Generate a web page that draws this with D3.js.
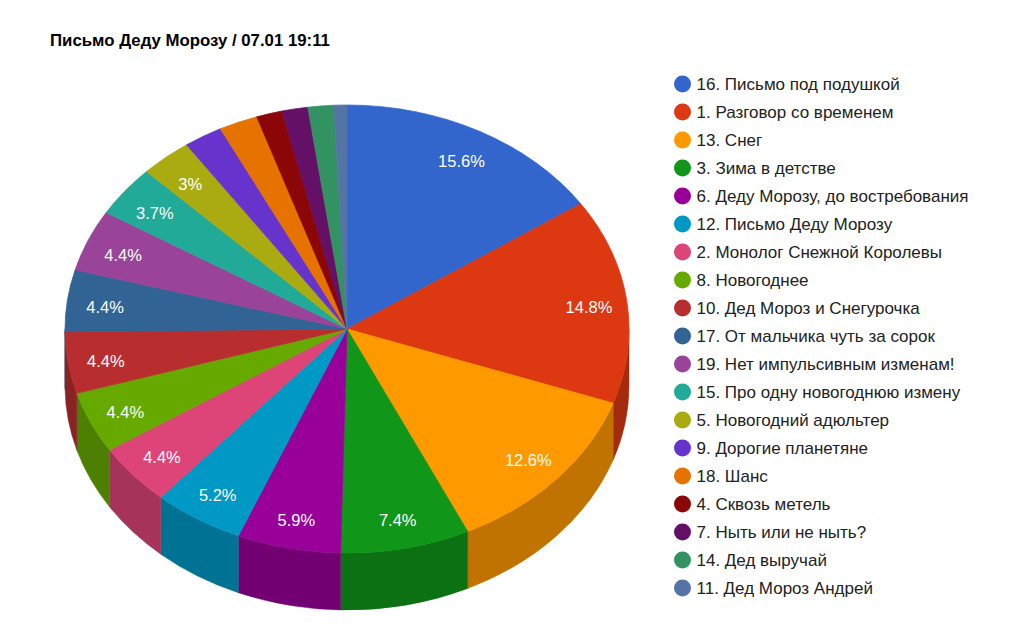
<!DOCTYPE html>
<html>
<head>
<meta charset="utf-8">
<script src="https://cdn.jsdelivr.net/npm/d3@7"></script>
<style>
  body { margin: 0; background: #fff; }
  text { font-family: "Liberation Sans", Arial, sans-serif; }
</style>
</head>
<body>
<div id="chart"></div>
<script>
// poll entries, in the order google draws them
const titles = [
    "16. Письмо под подушкой",
    "1. Разговор со временем",
    "13. Снег",
    "3. Зима в детстве",
    "6. Деду Морозу, до востребования",
    "12. Письмо Деду Морозу",
    "2. Монолог Снежной Королевы",
    "8. Новогоднее",
    "10. Дед Мороз и Снегурочка",
    "17. От мальчика чуть за сорок",
    "19. Нет импульсивным изменам!",
    "15. Про одну новогоднюю измену",
    "5. Новогодний адюльтер",
    "9. Дорогие планетяне",
    "18. Шанс",
    "4. Сквозь метель",
    "7. Ныть или не ныть?",
    "14. Дед выручай",
    "11. Дед Мороз Андрей"
]
// votes read back from the percent labels (total 135)
const votes = [21, 20, 17, 10, 8, 7, 6, 6, 6, 6, 6, 5, 4, 3, 3, 2, 2, 2, 1]

const colors = ["#3366cc", "#dc3912", "#ff9900", "#109618", "#990099", "#0099c6",
    "#dd4477", "#66aa00", "#b82e2e", "#316395", "#994499", "#22aa99",
    "#aaaa11", "#6633cc", "#e67300", "#8b0707", "#651067", "#329262", "#5574a6"]

const width = 1018, height = 644
const cx = 347, cy = 329, rx = 282, ry = 224, depth = 57

const svg = d3.select("#chart").append("svg")
    .attr("width", width)
    .attr("height", height)

svg.append("text")
    .attr("x", 50)
    .attr("y", 46)
    .attr("font-size", 16.8)
    .attr("font-weight", "bold")
    .attr("fill", "#000")
    .text("Письмо Деду Морозу / 07.01 19:11")

const total = d3.sum(votes)
const pie = d3.pie().sort(null).value(d => d)
const arcs = pie(votes)

const ex = a => cx + rx * Math.sin(a)
const ey = a => cy - ry * Math.cos(a)

// side walls: only the front half (pi/2 .. 3pi/2) shows
const side = svg.append("g")
arcs.forEach(function (d, i) {
    const a0 = Math.max(d.startAngle, Math.PI / 2)
    const a1 = Math.min(d.endAngle, 3 * Math.PI / 2)
    if (a1 <= a0) return
    const large = (a1 - a0) > Math.PI ? 1 : 0
    const p = `M${ex(a0)},${ey(a0)} A${rx},${ry} 0 ${large} 1 ${ex(a1)},${ey(a1)}` +
        ` L${ex(a1)},${ey(a1) + depth} A${rx},${ry} 0 ${large} 0 ${ex(a0)},${ey(a0) + depth} Z`
    side.append("path")
        .attr("d", p)
        .attr("fill", d3.rgb(colors[i]).darker(0.8))
        .attr("stroke", d3.rgb(colors[i]).darker(0.8))
        .attr("stroke-width", 0.5)
})

// top face: unit circle arcs squashed into the ellipse
const arc = d3.arc().innerRadius(0).outerRadius(1)
svg.append("g")
    .attr("transform", `translate(${cx},${cy}) scale(${rx},${ry})`)
    .selectAll("path")
    .data(arcs)
    .enter()
    .append("path")
    .attr("d", arc)
    .attr("fill", (d, i) => colors[i])
    .attr("stroke", (d, i) => colors[i])
    .attr("stroke-width", 0.003)

const fmt = v => d3.format(".1f")(v).replace(/\.0$/, "") + "%"
const mid = d => (d.startAngle + d.endAngle) / 2

svg.append("g")
    .selectAll("text")
    .data(arcs.filter(d => d.value / total >= 0.025))
    .enter()
    .append("text")
    .attr("x", d => cx + 0.865 * rx * Math.sin(mid(d)))
    .attr("y", d => cy + 2.5 - 0.86 * ry * Math.cos(mid(d)))
    .attr("text-anchor", "middle")
    .attr("dominant-baseline", "central")
    .attr("font-size", 16.5)
    .attr("fill", "#fff")
    .text(d => fmt(100 * d.value / total))

// legend
const legend = svg.append("g")
    .selectAll("g")
    .data(titles)
    .enter()
    .append("g")
    .attr("transform", (d, i) => `translate(682.5, ${84 + i * 28})`)

legend.append("circle")
    .attr("r", 8.5)
    .attr("fill", (d, i) => colors[i])

legend.append("text")
    .attr("x", 14)
    .attr("dominant-baseline", "central")
    .attr("font-size", 17)
    .attr("fill", "#222")
    .text(d => d)
</script>
</body>
</html>
